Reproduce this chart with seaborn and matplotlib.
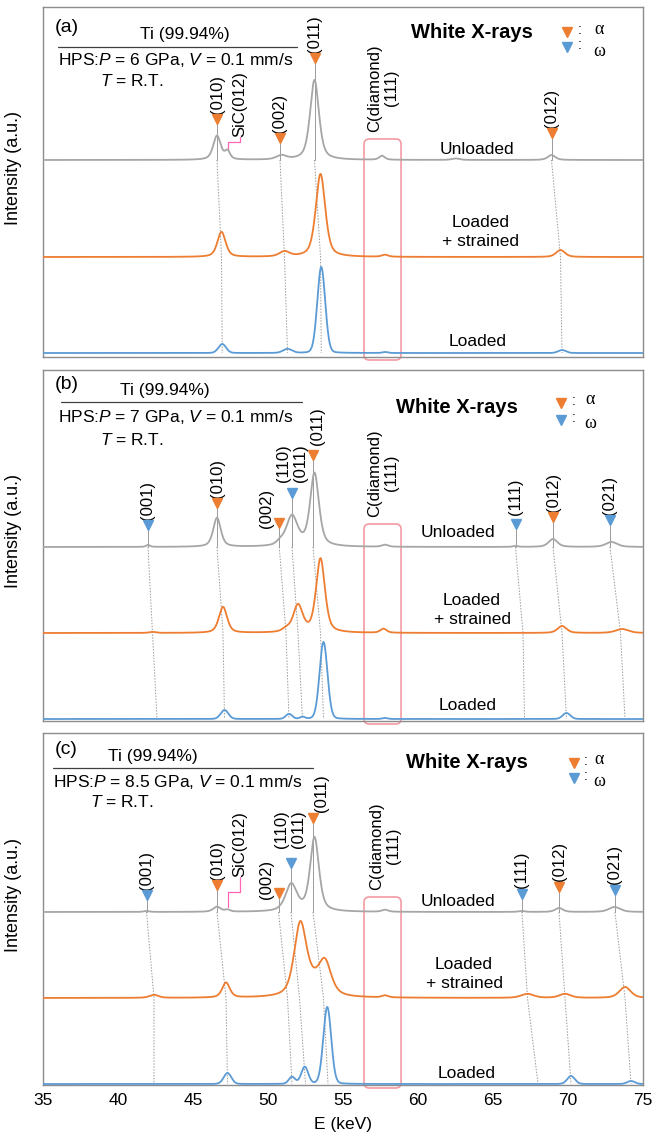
import numpy as np
import pandas as pd
import matplotlib.pyplot as plt
import seaborn as sns
from matplotlib.patches import FancyBboxPatch

sns.set_style("white")
plt.rcParams['font.family'] = ['Liberation Sans', 'DejaVu Sans']
plt.rcParams['mathtext.fontset'] = 'custom'
plt.rcParams['mathtext.it'] = 'Liberation Sans:italic'
plt.rcParams['mathtext.rm'] = 'Liberation Sans'
plt.rcParams['text.color'] = 'black'
plt.rcParams['axes.labelcolor'] = 'black'
plt.rcParams['xtick.color'] = 'black'

GRAY = '#a6a6a6'
ORANGE = '#ed7d31'
BLUE = '#5b9bd5'
PINK = '#f39aa3'
MAGENTA = '#ff66b3'

# ---- data: peaks (E keV, height, FWHM keV) ----
a_unloaded = [(46.6, 24, 0.6), (47.3, 8, 0.4), (50.9, 4, 0.8), (53.1, 80, 0.7),
              (57.6, 4, 0.45), (62.5, 1.5, 0.6), (68.9, 5, 0.6)]
a_strained = [(46.9, 25, 0.65), (51.1, 5, 0.8), (53.5, 83, 0.75), (57.8, 2, 0.5), (69.5, 7, 0.7)]
a_loaded = [(46.95, 9, 0.6), (51.3, 4, 0.7), (53.55, 86, 0.62), (57.8, 1, 0.4), (69.6, 3, 0.6)]

b_unloaded = [(42.0, 2, 0.3), (46.6, 29, 0.6), (50.8, 3, 0.6), (51.6, 30, 0.9), (53.1, 73, 0.7),
              (57.8, 2, 0.5), (66.5, 1, 0.4), (69.0, 8, 0.7), (72.9, 5, 0.9)]
b_strained = [(42.3, 1, 0.5), (47.0, 26, 0.65), (51.2, 3, 0.6), (52.0, 27, 0.75), (53.5, 74, 0.7),
              (57.7, 4, 0.5), (69.6, 7, 0.7), (73.6, 4, 1.0)]
b_loaded = [(47.1, 9, 0.6), (51.4, 5, 0.5), (52.3, 2, 0.4), (53.7, 77, 0.62), (57.8, 1, 0.4), (69.9, 6, 0.6)]

c_unloaded = [(41.9, 1, 0.4), (46.6, 5, 0.6), (47.3, 2, 0.4), (51.55, 27, 0.9), (53.1, 74, 0.7),
              (57.8, 2, 0.5), (66.9, 1, 0.5), (69.4, 4, 0.6), (73.1, 5, 0.9)]
c_strained = [(42.4, 3, 0.7), (47.2, 15, 0.6), (52.15, 68, 0.95), (53.05, 14, 2.0), (53.8, 28, 0.95),
              (57.8, 2, 0.5), (67.3, 4, 1.0), (69.8, 4, 0.9), (73.8, 11, 0.9)]
c_loaded = [(47.3, 11, 0.6), (51.6, 7, 0.5), (52.45, 17, 0.55), (53.95, 77, 0.62), (70.2, 8, 0.6), (74.2, 3, 0.6)]

# indexed peaks: phase, label, E unloaded, E loaded+strained, E loaded
a_hkl = [('a', '(010)', 46.6, 46.9, 46.95), ('a', '(002)', 50.8, 51.1, 51.3),
         ('a', '(011)', 53.1, 53.5, 53.55), ('a', '(012)', 68.9, 69.5, 69.6)]
b_hkl = [('w', '(001)', 42.0, 42.3, 42.6), ('a', '(010)', 46.6, 47.0, 47.1),
         ('a', '(002)', 50.75, 51.2, 51.4), ('w', '(110)\n(011)', 51.6, 52.0, 52.3),
         ('a', '(011)', 53.0, 53.5, 53.7), ('w', '(111)', 66.5, 67.0, 67.1),
         ('a', '(012)', 69.0, 69.6, 69.9), ('w', '(021)', 72.8, 73.5, 73.8)]
c_hkl = [('w', '(001)', 41.9, 42.4, 42.4), ('a', '(010)', 46.6, 47.2, 47.3),
         ('a', '(002)', 50.7, 51.3, 51.6), ('w', '(110)\n(011)', 51.53, 52.1, 52.5),
         ('a', '(011)', 53.0, 53.7, 54.0), ('w', '(111)', 66.93, 67.3, 68.0),
         ('a', '(012)', 69.4, 69.8, 70.2), ('w', '(021)', 73.13, 73.8, 74.2)]

pressures = ['6', '7', '8.5']
tags = ['(a)', '(b)', '(c)']
xticks = [35, 40, 45, 50, 55, 60, 65, 70, 75]

# ---- layout (panel units: px above the bottom spine) ----
layout = [
    dict(h=350, base=(197, 100, 4), marky=[238, 219, 299, 224],
         lab=[(46.6, 243), (50.8, 224), (53.1, 304), (68.9, 229)],
         tag=(35.8, 330), ti=(44.47, 322), rule=(36.0, 51.93, 310), hps=(36.0, 297), temp=(38.8, 276),
         white=(63.6, 325), leg=(69.93, 70.8, 72.07, 325, 310), un=(63.93, 207), st=(64.2, 125),
         lo=(64.0, 15), rect=218, dia=(57.67, 225), sic=(48.13, 220, 207, 215)),
    dict(h=351, base=(174, 88, 2), marky=[196, 218, 198, 228, 266, 197, 204, 201],
         lab=[(42.0, 201), (46.6, 223), (49.93, 193), (51.6, 239), (53.33, 276), (66.5, 206),
              (69.0, 209), (72.8, 206)],
         tag=(35.8, 336), ti=(43.13, 330), rule=(36.2, 52.27, 319), hps=(36.0, 304), temp=(38.8, 281),
         white=(62.6, 313), leg=(69.53, 70.4, 71.47, 318, 301), un=(62.67, 188), st=(63.6, 111),
         lo=(63.33, 16), rect=197, dia=(57.67, 204), sic=None),
    dict(h=352, base=(173, 87, 1), marky=[190, 200, 192, 222, 267, 191, 198, 195],
         lab=[(41.9, 195), (46.6, 205), (49.93, 186), (51.47, 237), (53.6, 273), (66.93, 197),
              (69.4, 204), (73.13, 201)],
         tag=(35.8, 335), ti=(42.33, 328), rule=(35.67, 53.0, 317), hps=(35.67, 303), temp=(38.13, 283),
         white=(63.27, 322), leg=(70.4, 71.2, 72.07, 322, 307), un=(62.67, 183), st=(63.07, 111),
         lo=(63.27, 11), rect=188, dia=(57.8, 195), sic=(48.13, 208, 178, 193)),
]

energy = np.linspace(35, 75, 2401)


def spectrum(peaks, eta):
    y = np.zeros_like(energy)
    for e0, h, w in peaks:
        g = np.exp(-4 * np.log(2) * ((energy - e0) / w) ** 2)
        lor = 1 / (1 + 4 * ((energy - e0) / w) ** 2)
        y += h * (eta * lor + (1 - eta) * g)
    return y


spectra = [(a_unloaded, a_strained, a_loaded), (b_unloaded, b_strained, b_loaded),
           (c_unloaded, c_strained, c_loaded)]
hkls = [a_hkl, b_hkl, c_hkl]

fig = plt.figure(figsize=(6.64, 11.40), dpi=100)
W, H = 664, 1140
panel_px = [(7, 357), (370, 721), (733, 1085)]

for i in range(3):
    top, bot = panel_px[i]
    ax = fig.add_axes([43 / W, 1 - bot / H, 600 / W, (bot - top) / H])
    L = layout[i]
    gb, ob, bb = L['base']

    # spectra
    df = pd.DataFrame({
        'E': np.tile(energy, 3),
        'I': np.concatenate([gb + spectrum(spectra[i][0], 0.55),
                             ob + spectrum(spectra[i][1], 0.5),
                             bb + spectrum(spectra[i][2], 0.1)]),
        'trace': np.repeat(['Unloaded', 'Loaded + strained', 'Loaded'], len(energy)),
    })
    sns.lineplot(data=df, x='E', y='I', hue='trace', estimator=None, sort=False,
                 palette={'Unloaded': GRAY, 'Loaded + strained': ORANGE, 'Loaded': BLUE},
                 linewidth=1.3, legend=False, ax=ax, zorder=3)

    # indexed peaks: markers, labels, guide lines
    for k, (ph, name, eu, es, el) in enumerate(hkls[i]):
        col = ORANGE if ph == 'a' else BLUE
        my = L['marky'][k]
        ax.plot([eu, eu], [my - 5, gb], color='#9a9a9a', lw=0.7, zorder=1)
        ax.plot([eu, es, el], [gb, ob, bb], color='#9a9a9a', lw=0.7,
                linestyle=(0, (1.5, 1.5)), zorder=1)
        ax.plot(eu, my, marker='v', color=col, markersize=6.5, linestyle='none', zorder=4)
        lx, ly = L['lab'][k]
        ax.text(lx, ly, name, rotation=90, ha='center', va='bottom', multialignment='center',
                fontsize=12, linespacing=1.15)

    # diamond box
    ax.add_patch(FancyBboxPatch((56.4, -3), 2.47, L['rect'] + 3,
                                boxstyle='round,pad=0,rounding_size=0.35', mutation_aspect=15,
                                fill=False, edgecolor=PINK, lw=1.2, clip_on=False, zorder=2))
    dx, dy = L['dia']
    ax.text(dx, dy, 'C(diamond)\n(111)', rotation=90, ha='center', va='bottom',
            multialignment='center', fontsize=12, linespacing=1.15)

    # SiC(012) label with elbow connector
    if L['sic'] is not None:
        sx, sy, y0, y1 = L['sic']
        ax.plot([47.33, 47.33, sx, sx], [y0, y1, y1, sy], color=MAGENTA, lw=0.9, zorder=2)
        ax.text(sx, sy, 'SiC(012)', rotation=90, ha='center', va='bottom', fontsize=12)

    # header texts
    ax.text(*L['tag'], tags[i], fontsize=14, va='center', ha='left')
    ax.text(*L['ti'], 'Ti (99.94%)', fontsize=12.5, va='center', ha='center')
    x0, x1, ry = L['rule']
    ax.plot([x0, x1], [ry, ry], color='#404040', lw=0.9)
    ax.text(*L['hps'], r'HPS:$P$ = ' + pressures[i] + r' GPa, $V$ = 0.1 mm/s',
            fontsize=12.5, va='center', ha='left')
    ax.text(*L['temp'], r'$T$ = R.T.', fontsize=12.5, va='center', ha='left')
    ax.text(*L['white'], 'White X-rays', fontsize=14.5, fontweight='bold', va='center', ha='center')
    mx, cx, gx, y_a, y_w = L['leg']
    ax.plot(mx, y_a, marker='v', color=ORANGE, markersize=6.5, linestyle='none')
    ax.plot(mx, y_w, marker='v', color=BLUE, markersize=6.5, linestyle='none')
    ax.text(cx, y_a + 2, ':', fontsize=10, va='center', ha='center')
    ax.text(cx, y_w + 2, ':', fontsize=10, va='center', ha='center')
    ax.text(gx, y_a + 3, 'α', fontsize=13, va='center', ha='center', family=['Liberation Serif', 'DejaVu Serif'])
    ax.text(gx, y_w - 4, 'ω', fontsize=13, va='center', ha='center', family=['Liberation Serif', 'DejaVu Serif'])

    # trace names
    ax.text(*L['un'], 'Unloaded', fontsize=12.5, va='center', ha='center')
    ax.text(*L['st'], 'Loaded\n+ strained', fontsize=12.5, va='center', ha='center', linespacing=1.3)
    ax.text(*L['lo'], 'Loaded', fontsize=12.5, va='center', ha='center')

    ax.set_xlim(35, 75)
    ax.set_ylim(0, L['h'])
    ax.set_yticks([])
    ax.set_xticks(xticks)
    ax.tick_params(axis='x', length=0, labelsize=12.5, pad=6)
    if i < 2:
        ax.set_xticklabels([])
        ax.set_xlabel('')
    else:
        ax.set_xlabel('E (keV)', fontsize=12.5, labelpad=6)
    ax.set_ylabel('Intensity (a.u.)', fontsize=13)
    ax.yaxis.set_label_coords(-0.035, 0.54)
    for sp in ax.spines.values():
        sp.set_color('#8c8c8c')
        sp.set_linewidth(1.0)

fig.savefig('out.png', dpi=100)
